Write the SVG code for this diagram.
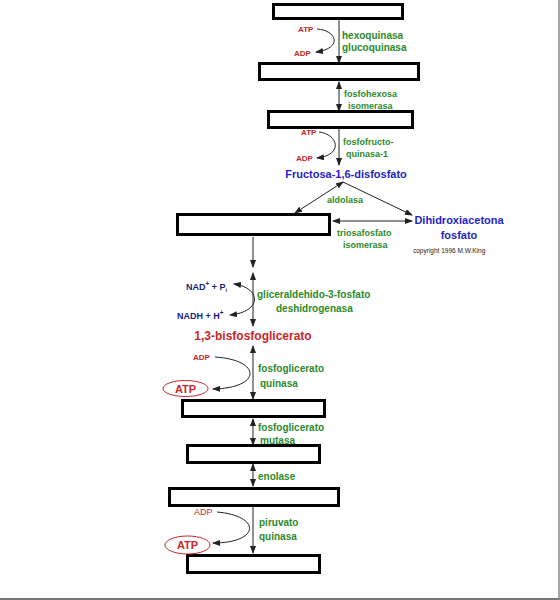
<svg xmlns="http://www.w3.org/2000/svg" width="560" height="600" viewBox="0 0 560 600">
<style>
text{font-family:"Liberation Sans",Arial,sans-serif}
.box{fill:#fff;stroke:#000;stroke-width:3}
.ln{fill:none;stroke:#222;stroke-width:1}
.g{fill:#2b8a2b;font-weight:bold;font-size:10px}
.g9{fill:#2b8a2b;font-weight:bold;font-size:9px}
.r{fill:#c62828;font-weight:bold;font-size:8px}
.b{fill:#1f1fc8;font-weight:bold;font-size:11px}
.n{fill:#1a237e;font-weight:bold;font-size:9px}
.ell{fill:#fff;stroke:#c62828;stroke-width:1}
</style>
<defs>
<marker id="ah" markerUnits="userSpaceOnUse" markerWidth="8" markerHeight="6" refX="7" refY="3" orient="auto-start-reverse">
<path d="M0,0 L8,3 L0,6 z" fill="#222"/>
</marker>
</defs>
<rect x="0" y="0" width="560" height="600" fill="#fff"/>
<line x1="0" y1="599" x2="560" y2="599" stroke="#777" stroke-width="2"/>
<line x1="559" y1="0" x2="559" y2="600" stroke="#888" stroke-width="1.5"/>

<g id="connectors">
<path class="ln" d="M339,20 L339,63" marker-end="url(#ah)"/>
<path class="ln" d="M339,82 L339,111" marker-start="url(#ah)" marker-end="url(#ah)"/>
<path class="ln" d="M339,129 L339,165" marker-end="url(#ah)"/>
<path class="ln" d="M343,182 L295,213" marker-start="url(#ah)" marker-end="url(#ah)"/>
<path class="ln" d="M343,182 L412,215" marker-end="url(#ah)"/>
<path class="ln" d="M333,221 L412,221" marker-start="url(#ah)" marker-end="url(#ah)"/>
<path class="ln" d="M253,237 L253,267" marker-end="url(#ah)"/>
<path class="ln" d="M253,273 L253,326" marker-start="url(#ah)" marker-end="url(#ah)"/>
<path class="ln" d="M253,346 L253,399" marker-start="url(#ah)" marker-end="url(#ah)"/>
<path class="ln" d="M253,419 L253,445" marker-start="url(#ah)" marker-end="url(#ah)"/>
<path class="ln" d="M253,464 L253,486" marker-start="url(#ah)" marker-end="url(#ah)"/>
<path class="ln" d="M253,507 L253,553" marker-end="url(#ah)"/>
<path class="ln" d="M317,29 C336,30 344,48 316,52" marker-end="url(#ah)"/>
<path class="ln" d="M319,132 C338,134 344,155 317,158" marker-end="url(#ah)"/>
<path class="ln" d="M234,284 C262,288 262,312 230,315" marker-start="url(#ah)" marker-end="url(#ah)"/>
<path class="ln" d="M215,357 C262,360 262,388 213,389" marker-end="url(#ah)"/>
<path class="ln" d="M217,512 C262,516 260,543 213,543" marker-end="url(#ah)"/>
</g>

<g id="box1"><rect class="box" x="273.5" y="4.5" width="129" height="14"/></g>
<g id="box2"><rect class="box" x="259.5" y="63.5" width="159" height="16"/></g>
<g id="box3"><rect class="box" x="268.5" y="111.5" width="144" height="16"/></g>
<g id="fructosa"><text class="b" x="346" y="178" text-anchor="middle">Fructosa-1,6-disfosfato</text></g>
<g id="box4"><rect class="box" x="177.5" y="214.5" width="152" height="20"/></g>
<g id="dihidroxi">
<text class="b" x="459" y="224" text-anchor="middle">Dihidroxiacetona</text>
<text class="b" x="459" y="239" text-anchor="middle">fosfato</text>
<text x="413" y="253" font-size="6.5" fill="#222">copyright 1996 M.W.King</text>
</g>
<g id="bisfosfo"><text x="253" y="340" text-anchor="middle" font-size="12" font-weight="bold" fill="#c62828">1,3-bisfosfoglicerato</text></g>
<g id="box5"><rect class="box" x="182.5" y="400.5" width="142" height="16"/></g>
<g id="box6"><rect class="box" x="187.5" y="445.5" width="132" height="17"/></g>
<g id="box7"><rect class="box" x="169.5" y="488.5" width="169" height="17"/></g>
<g id="box8"><rect class="box" x="187.5" y="555.5" width="132" height="17"/></g>

<g id="labels">
<text class="r" x="298" y="32">ATP</text>
<text class="r" x="294" y="56">ADP</text>
<text class="g" x="342" y="39">hexoquinasa</text>
<text class="g" x="342" y="51">glucoquinasa</text>
<text class="g9" x="344" y="97">fosfohexosa</text>
<text class="g9" x="348" y="109">isomerasa</text>
<text class="r" x="301" y="135">ATP</text>
<text class="r" x="296" y="161">ADP</text>
<text class="g9" x="343" y="145">fosfofructo-</text>
<text class="g9" x="346" y="157">quinasa-1</text>
<text class="g9" x="327" y="203">aldolasa</text>
<text class="g9" x="337" y="236">triosafosfato</text>
<text class="g9" x="343" y="248">isomerasa</text>
<text class="n" x="186" y="290">NAD<tspan font-size="6.5" dy="-4">+</tspan><tspan dy="4"> + P</tspan><tspan font-size="5.5" dy="2">i</tspan></text>
<text class="n" x="177" y="319">NADH + H<tspan font-size="6.5" dy="-4">+</tspan></text>
<text class="g" x="257" y="298">gliceraldehido-3-fosfato</text>
<text class="g" x="276" y="312">deshidrogenasa</text>
<text class="r" x="193" y="360" font-size="8.5">ADP</text>
<ellipse class="ell" cx="185.5" cy="388.5" rx="22.5" ry="8"/>
<text x="185.5" y="392.5" text-anchor="middle" font-size="11" font-weight="bold" fill="#c62828">ATP</text>
<text class="g" x="258" y="372">fosfoglicerato</text>
<text class="g" x="260" y="387">quinasa</text>
<text class="g" x="258" y="431">fosfoglicerato</text>
<text class="g" x="260" y="444">mutasa</text>
<text class="g" x="258" y="480">enolase</text>
<text x="194" y="515" font-size="9" fill="#c62828">ADP</text>
<ellipse class="ell" cx="187.5" cy="545" rx="22.5" ry="9"/>
<text x="187.5" y="549" text-anchor="middle" font-size="11" font-weight="bold" fill="#c62828">ATP</text>
<text class="g" x="259" y="526">piruvato</text>
<text class="g" x="259" y="540">quinasa</text>
</g>
</svg>
